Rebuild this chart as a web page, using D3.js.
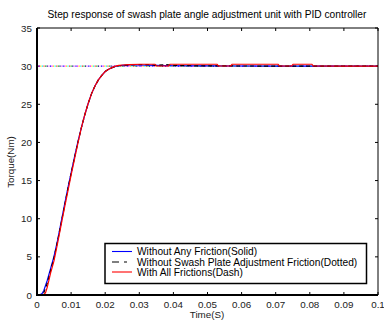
<!DOCTYPE html>
<html><head><meta charset="utf-8">
<script src="https://cdn.jsdelivr.net/npm/d3@7"></script>
<style>body{margin:0;background:#fff}svg{display:block}text{font-family:"Liberation Sans",Arial,sans-serif}</style>
</head><body><svg id="c" width="384" height="323"></svg>
<script>
const title = "Step response of swash plate angle adjustment unit with PID controller";
const xLabel = "Time(S)";
const yLabel = "Torque(Nm)";
const xTicks = [0,0.01,0.02,0.03,0.04,0.05,0.06,0.07,0.08,0.09,0.1];
const xTickLabels = ["0","0.01","0.02","0.03","0.04","0.05","0.06","0.07","0.08","0.09","0.1"];
const yTicks = [0,5,10,15,20,25,30,35];
const setpoint = 30;
const setpointDotColors = ["#0000ff","#ff00ff","#ffd700","#00ffff","#ff3030","#20c020","#000080","#ff80ff"];

const timeBlue = [0,0.001,0.0015,0.002,0.003,0.004,0.005,0.006,0.007,0.008,0.009,0.010,0.011,0.012,0.013,0.014,0.015,0.016,0.017,0.018,0.019,0.020,0.021,0.022,0.023,0.024,0.025,0.027,0.030,0.035,0.040,0.050,0.060,0.070,0.080,0.090,0.100];
const valBlue  = [0,0.05,0.2,0.6,1.9,3.5,5.1,7.1,9.4,11.7,13.9,16.0,18.1,20.1,21.9,23.6,25.1,26.4,27.4,28.2,28.8,29.3,29.6,29.8,29.95,30.05,30.1,30.15,30.15,30.1,30.05,30.03,30.02,30.01,30.0,30.0,30.0];
const timeBlack = [0,0.001,0.002,0.003,0.004,0.005,0.006,0.007,0.008,0.009,0.010,0.011,0.012,0.013,0.014,0.015,0.016,0.017,0.018,0.019,0.020,0.021,0.022,0.023,0.024,0.025,0.027,0.030,0.0325,0.035,0.038,0.040,0.045,0.050,0.060,0.070,0.080,0.090,0.100];
const valBlack  = [0,0.03,0.3,1.5,3.2,4.9,7.0,9.2,11.5,13.8,15.9,18.0,20.0,21.9,23.6,25.1,26.4,27.4,28.2,28.8,29.3,29.6,29.8,29.95,30.05,30.1,30.15,30.2,30.2,30.1,30.2,30.1,30.05,30.03,30.02,30.01,30.0,30.0,30.0];
const timeRed = [0,0.001,0.002,0.0025,0.003,0.004,0.005,0.006,0.007,0.008,0.009,0.010,0.011,0.012,0.013,0.014,0.015,0.016,0.017,0.018,0.019,0.020,0.021,0.022,0.023,0.024,0.025,0.027,0.0302,0.0346,0.0350,0.0386,0.0390,0.0528,0.0532,0.0568,0.0572,0.0707,0.0711,0.0747,0.0751,0.0806,0.0810,0.090,0.100];
const valRed  = [0,0,0.05,0.3,1.0,2.9,4.5,6.7,9.0,11.3,13.5,15.7,17.8,19.9,21.9,23.6,25.1,26.4,27.4,28.2,28.8,29.3,29.6,29.8,30.0,30.1,30.15,30.2,30.25,30.25,30.02,30.02,30.25,30.25,30.02,30.02,30.25,30.25,30.02,30.02,30.25,30.25,30.02,30.0,30.0];
const legendLabels = ["Without Any Friction(Solid)","Without Swash Plate Adjustment Friction(Dotted)","With All Frictions(Dash)"];
const seriesColors = ["#0000ff","#000000","#ff0000"];

const svg = d3.select("#c");
const m = {l:37,r:378,t:28,b:295};
const x = d3.scaleLinear().domain([0,0.1]).range([m.l,m.r]);
const y = d3.scaleLinear().domain([0,35]).range([m.b,m.t]);

svg.append("text").attr("x",207).attr("y",18).attr("text-anchor","middle").attr("font-size",10.2).attr("fill","#000").text(title);

const g = svg.append("g").attr("font-size",9.8).attr("fill","#222");
xTicks.forEach((t,i)=>{
  const px = x(t);
  g.append("line").attr("x1",px).attr("x2",px).attr("y1",m.b).attr("y2",m.b-3).attr("stroke","#000");
  g.append("line").attr("x1",px).attr("x2",px).attr("y1",m.t).attr("y2",m.t+3).attr("stroke","#000");
  g.append("text").attr("x",px).attr("y",m.b+13).attr("text-anchor","middle").text(xTickLabels[i]);
});
yTicks.forEach(t=>{
  const py = y(t);
  g.append("line").attr("x1",m.l).attr("x2",m.l+3).attr("y1",py).attr("y2",py).attr("stroke","#000");
  g.append("line").attr("x1",m.r).attr("x2",m.r-3).attr("y1",py).attr("y2",py).attr("stroke","#000");
  g.append("text").attr("x",m.l-5).attr("y",py+3.5).attr("text-anchor","end").text(t);
});

setpointDotColors.forEach((c,i)=>{
  svg.append("line").attr("x1",x(0)).attr("x2",x(0.1)).attr("y1",y(setpoint)).attr("y2",y(setpoint))
    .attr("stroke",c).attr("stroke-width",1.4).attr("stroke-dasharray","1.2,11.6").attr("stroke-dashoffset",-i*1.6);
});

const line = d3.line().x(d=>x(d[0])).y(d=>y(d[1]));
const series = [[timeBlue,valBlue],[timeBlack,valBlack],[timeRed,valRed]];
series.forEach((s,i)=>{
  const pts = s[0].map((t,j)=>[t,s[1][j]]);
  svg.append("path").attr("d",line(pts)).attr("fill","none").attr("stroke",seriesColors[i]).attr("stroke-width",1.2)
    .attr("stroke-dasharray", i===1 ? "4,3" : null);
});

svg.append("line").attr("x1",m.l).attr("x2",m.r).attr("y1",m.t).attr("y2",m.t).attr("stroke","#000");
svg.append("line").attr("x1",m.r).attr("x2",m.r).attr("y1",m.t).attr("y2",m.b).attr("stroke","#000");
svg.append("line").attr("x1",m.l).attr("x2",m.l).attr("y1",m.t).attr("y2",m.b+1).attr("stroke","#000").attr("stroke-width",2);
svg.append("line").attr("x1",m.l-1).attr("x2",m.r).attr("y1",m.b).attr("y2",m.b).attr("stroke","#000").attr("stroke-width",2);

const lg = svg.append("g");
lg.append("rect").attr("x",105).attr("y",243.5).attr("width",261.5).attr("height",40).attr("fill","#fff").attr("stroke","#000").attr("stroke-width",1.5);
const rows = [251.5,262,272];
legendLabels.forEach((l,i)=>{
  lg.append("line").attr("x1",112).attr("x2",132).attr("y1",rows[i]).attr("y2",rows[i]).attr("stroke",seriesColors[i]).attr("stroke-width",1.1)
    .attr("stroke-dasharray", i===1 ? "7,5,3,5" : null);
  lg.append("text").attr("x",137).attr("y",rows[i]+3.6).attr("font-size",10.2).attr("fill","#000").text(l);
});

svg.append("text").attr("x",207).attr("y",318).attr("text-anchor","middle").attr("font-size",9.8).attr("fill","#222").text(xLabel);
svg.append("text").attr("transform","translate(14,162) rotate(-90)").attr("text-anchor","middle").attr("font-size",9.8).attr("fill","#222").text(yLabel);
</script></body></html>
